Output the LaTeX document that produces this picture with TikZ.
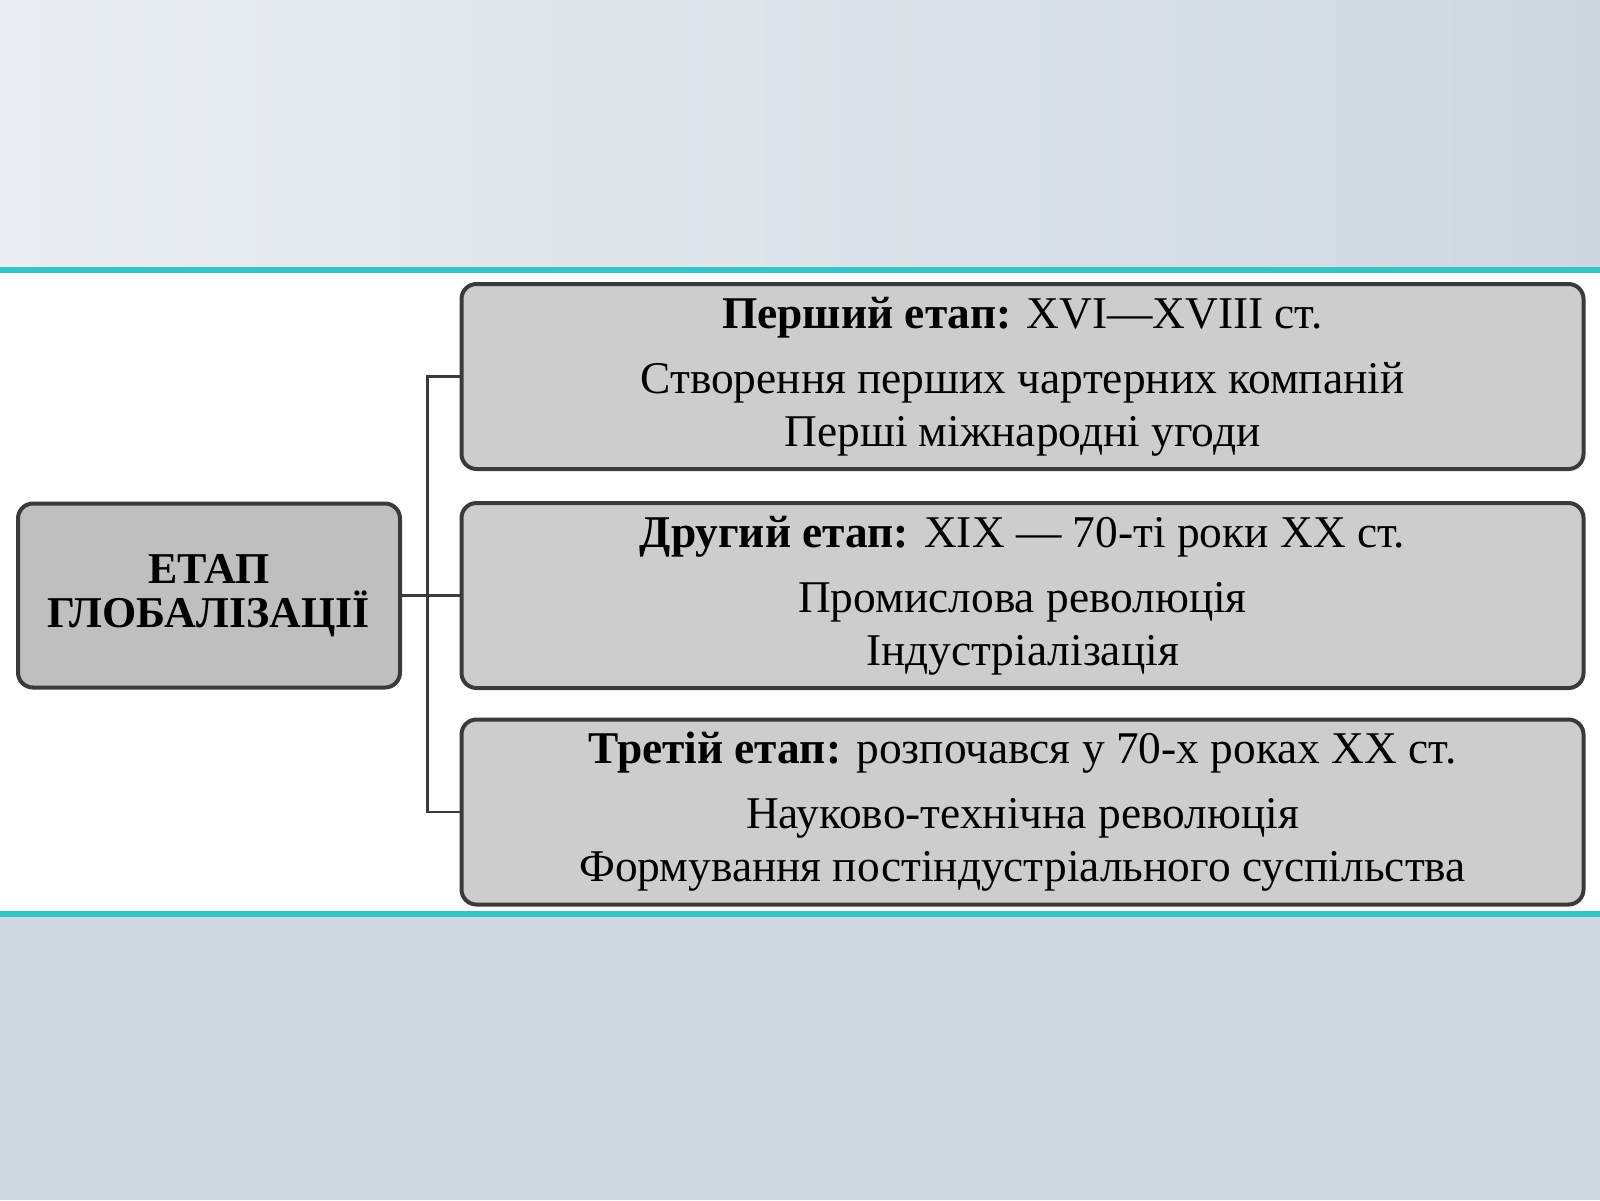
\documentclass[tikz,border=0pt]{standalone}
\usepackage{fontspec}
\setmainfont{Liberation Serif}
\usepackage{tikz}
\definecolor{bgtopl}{HTML}{EAEEF2}
\definecolor{bgtopr}{HTML}{CFD8E1}
\definecolor{bgbot}{HTML}{D0D9E2}
\definecolor{bandline}{HTML}{33C6C6}
\definecolor{boxfill}{HTML}{CDCDCD}
\definecolor{boxline}{HTML}{3A3A3A}
\tikzset{
  stagebox/.style={draw=boxline, line width=2pt, fill=boxfill, rounded corners=7.5pt,
    minimum width=561pt, minimum height=92.5pt, align=center, inner sep=0pt,
    font=\fontsize{22.7}{26.5}\selectfont},
  mainbox/.style={draw=boxline, line width=2pt, fill=boxfill!93!black, rounded corners=7.5pt,
    minimum width=191pt, minimum height=92pt, align=center, inner sep=0pt,
    font=\bfseries\fontsize{22}{22}\selectfont}
}
\begin{document}
\begin{tikzpicture}[x=0.5pt,y=0.5pt,yscale=-1]
\useasboundingbox (0,0) rectangle (1600,1200);

%Background
\shade[left color=bgtopl, right color=bgtopr] (0,0) rectangle (1600,268);
\fill[white] (0,268) rectangle (1600,913);
\fill[bgbot] (0,913) rectangle (1600,1200);
%Straight Lines
\fill[bandline] (0,267) rectangle (1600,273);
%Straight Lines
\fill[bandline] (0,911) rectangle (1600,917);

% Text Node
\node [mainbox] (etap) at (209,595.5) {ЕТАП\\ГЛОБАЛІЗАЦІЇ};
% Text Node
\node [stagebox] (first) at (1022.5,376.5) {\textbf{Перший етап:} XVI—XVIII ст.\\[6pt]Створення перших чартерних компаній\\Перші міжнародні угоди};
% Text Node
\node [stagebox] (second) at (1022.5,595.5) {\textbf{Другий етап:} XIX — 70-ті роки XX ст.\\[6pt]Промислова революція\\Індустріалізація};
% Text Node
\node [stagebox] (third) at (1022.5,812) {\textbf{Третій етап:} розпочався у 70-х роках XX ст.\\[6pt]Науково-технічна революція\\Формування постіндустріального суспільства};

%Straight Lines
\draw [line width=1.2pt, boxline] (etap.east) -- (second.west);
%Straight Lines
\draw [line width=1.2pt, boxline] (first.west) -- ++(-32,0) |- (third.west);

\end{tikzpicture}
\end{document}
